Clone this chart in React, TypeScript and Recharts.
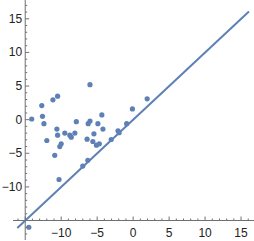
import { ScatterChart, Scatter, XAxis, YAxis, ReferenceLine } from 'recharts';

// scattered points
const pointX = [-14.1, -12.7, -12.6, -12.4, -11.15, -10.5, -12.0, -10.6, -10.5, -10.0, -10.2, -10.9, -9.5, -8.8, -8.6, -8.1, -7.9, -10.3, -7.0, -6.0, -0.1, -4.35, -6.0, -6.25, -4.9, -4.2, -5.45, -6.4, -5.6, -5.1, -4.7, -3.05, -2.1, -1.95, -0.9, -6.3, 1.95, -14.5];
const pointY = [0.1, 2.1, 0.5, -0.6, 2.95, 3.5, -3.1, -1.4, -2.3, -3.6, -4.0, -5.3, -2.0, -2.3, -2.6, -2.0, -0.3, -8.9, -6.9, 5.2, 1.6, 0.7, -0.2, -0.6, -0.6, -1.4, -2.1, -2.9, -3.25, -3.8, -3.6, -2.95, -1.65, -1.95, -0.6, -6.05, 3.1, -16.0];

// y = x reference line
const lineX = [-16.1, 16.1];
const lineY = [-16.1, 16.1];

const xTicks = [-16, -15, -14, -13, -12, -11, -10, -9, -8, -7, -6, -5, -4, -3, -2, -1, 0, 1, 2, 3, 4, 5, 6, 7, 8, 9, 10, 11, 12, 13, 14, 15, 16];
const yTicks = [-17, -16, -15, -14, -13, -12, -11, -10, -9, -8, -7, -6, -5, -4, -3, -2, -1, 0, 1, 2, 3, 4, 5, 6, 7, 8, 9, 10, 11, 12, 13, 14, 15, 16, 17];
const AXIS_AT = -15;

const X_DOM = [-16.7, 16.8];
const Y_DOM = [-17.9, 17.8];
const W = 254, H = 241;
// axis strips are 1px each (a 0px axis is not drawn at all)
const M = { top: 0, right: 0, bottom: 0, left: 12 };
const PLOT_LEFT = M.left + 1;
const PLOT_BOTTOM = H - M.bottom - 1;

const BLUE = '#5E81B5';
const AXIS = '#707070';
const LABEL = '#222';

const points = pointX.map((x, i) => ({ x, y: pointY[i] }));
const line = lineX.map((x, i) => ({ x, y: lineY[i] }));

// pixel of the crossing axes, from the same domains the chart uses
const plotW = W - M.right - PLOT_LEFT;
const plotH = PLOT_BOTTOM - M.top;
const axisYpx = M.top + ((Y_DOM[1] - AXIS_AT) / (Y_DOM[1] - Y_DOM[0])) * plotH;
const axisXpx = PLOT_LEFT + ((AXIS_AT - X_DOM[0]) / (X_DOM[1] - X_DOM[0])) * plotW;

const fmt = (v: number) => (v < 0 ? `\u2212${-v}` : `${v}`);
const font = { fontFamily: '"Liberation Sans", Arial, sans-serif', fontSize: 12, fill: LABEL };

function XTick(props: any) {
  const { x, payload } = props;
  const v = payload.value as number;
  const major = v % 5 === 0;
  return (
    <g>
      <line x1={x} x2={x} y1={axisYpx} y2={axisYpx - (major ? 4 : 2)} stroke={AXIS} strokeWidth={1} />
      {major && v !== AXIS_AT && (
        <text x={x} y={axisYpx + 12} textAnchor="middle" dominantBaseline="central" {...font}>{fmt(v)}</text>
      )}
    </g>
  );
}

function YTick(props: any) {
  const { y, payload } = props;
  const v = payload.value as number;
  const major = v % 5 === 0;
  return (
    <g>
      <line x1={axisXpx} x2={axisXpx + (major ? 4 : 2)} y1={y} y2={y} stroke={AXIS} strokeWidth={1} />
      {major && v !== AXIS_AT && (
        <text x={axisXpx - 3} y={y} textAnchor="end" dominantBaseline="central" {...font}>{fmt(v)}</text>
      )}
    </g>
  );
}

export default function App() {
  return (
    <div style={{ position: 'absolute', left: 0, top: 0, width: W, height: H, background: '#fff' }}>
      <ScatterChart width={W} height={H} margin={M}>
        <XAxis type="number" dataKey="x" domain={X_DOM} allowDataOverflow ticks={xTicks} interval={0}
          height={1} axisLine={false} tickLine={false} tick={<XTick />} />
        <YAxis type="number" dataKey="y" domain={Y_DOM} allowDataOverflow ticks={yTicks} interval={0}
          width={1} axisLine={false} tickLine={false} tick={<YTick />} />
        <ReferenceLine y={AXIS_AT} stroke={AXIS} strokeWidth={1} />
        <ReferenceLine x={AXIS_AT} stroke={AXIS} strokeWidth={1} />
        <Scatter data={points} isAnimationActive={false}
          shape={(p: any) => <circle cx={p.cx} cy={p.cy} r={2.6} fill={BLUE} />} />
        <Scatter data={line} isAnimationActive={false} line={{ stroke: BLUE, strokeWidth: 2 }}
          shape={() => <g />} />
      </ScatterChart>
    </div>
  );
}
